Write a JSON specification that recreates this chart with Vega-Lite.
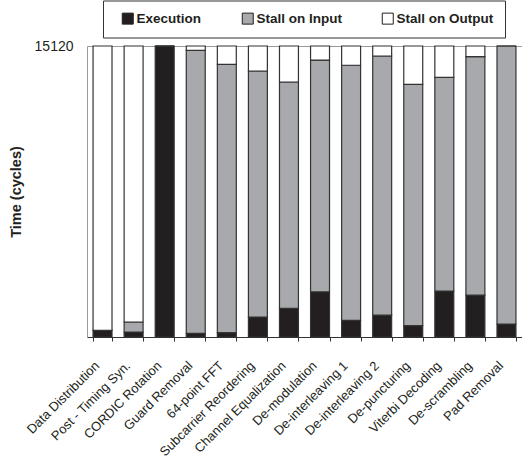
{
  "$schema": "https://vega.github.io/schema/vega-lite/v6.json",
  "autosize": "none",
  "padding": {"left": 87, "top": 46, "right": 0, "bottom": 124},
  "width": 435,
  "height": 291,
  "background": "white",
  "config": {
    "font": "Liberation Sans",
    "view": {"stroke": null}
  },
  "data": {
    "values": [
      {"stage": "Data Distribution", "part": "Execution", "cycles": 340},
      {"stage": "Data Distribution", "part": "Stall on Input", "cycles": 0},
      {"stage": "Data Distribution", "part": "Stall on Output", "cycles": 14780},
      {"stage": "Post - Timing Syn.", "part": "Execution", "cycles": 260},
      {"stage": "Post - Timing Syn.", "part": "Stall on Input", "cycles": 520},
      {"stage": "Post - Timing Syn.", "part": "Stall on Output", "cycles": 14340},
      {"stage": "CORDIC Rotation", "part": "Execution", "cycles": 15120},
      {"stage": "CORDIC Rotation", "part": "Stall on Input", "cycles": 0},
      {"stage": "CORDIC Rotation", "part": "Stall on Output", "cycles": 0},
      {"stage": "Guard Removal", "part": "Execution", "cycles": 190},
      {"stage": "Guard Removal", "part": "Stall on Input", "cycles": 14705},
      {"stage": "Guard Removal", "part": "Stall on Output", "cycles": 225},
      {"stage": "64-point FFT", "part": "Execution", "cycles": 225},
      {"stage": "64-point FFT", "part": "Stall on Input", "cycles": 13945},
      {"stage": "64-point FFT", "part": "Stall on Output", "cycles": 950},
      {"stage": "Subcarrier Reordering", "part": "Execution", "cycles": 1040},
      {"stage": "Subcarrier Reordering", "part": "Stall on Input", "cycles": 12780},
      {"stage": "Subcarrier Reordering", "part": "Stall on Output", "cycles": 1300},
      {"stage": "Channel Equalization", "part": "Execution", "cycles": 1490},
      {"stage": "Channel Equalization", "part": "Stall on Input", "cycles": 11760},
      {"stage": "Channel Equalization", "part": "Stall on Output", "cycles": 1870},
      {"stage": "De-modulation", "part": "Execution", "cycles": 2350},
      {"stage": "De-modulation", "part": "Stall on Input", "cycles": 12040},
      {"stage": "De-modulation", "part": "Stall on Output", "cycles": 730},
      {"stage": "De-interleaving 1", "part": "Execution", "cycles": 860},
      {"stage": "De-interleaving 1", "part": "Stall on Input", "cycles": 13260},
      {"stage": "De-interleaving 1", "part": "Stall on Output", "cycles": 1000},
      {"stage": "De-interleaving 2", "part": "Execution", "cycles": 1140},
      {"stage": "De-interleaving 2", "part": "Stall on Input", "cycles": 13460},
      {"stage": "De-interleaving 2", "part": "Stall on Output", "cycles": 520},
      {"stage": "De-puncturing", "part": "Execution", "cycles": 590},
      {"stage": "De-puncturing", "part": "Stall on Input", "cycles": 12540},
      {"stage": "De-puncturing", "part": "Stall on Output", "cycles": 1990},
      {"stage": "Viterbi Decoding", "part": "Execution", "cycles": 2390},
      {"stage": "Viterbi Decoding", "part": "Stall on Input", "cycles": 11100},
      {"stage": "Viterbi Decoding", "part": "Stall on Output", "cycles": 1630},
      {"stage": "De-scrambling", "part": "Execution", "cycles": 2180},
      {"stage": "De-scrambling", "part": "Stall on Input", "cycles": 12390},
      {"stage": "De-scrambling", "part": "Stall on Output", "cycles": 550},
      {"stage": "Pad Removal", "part": "Execution", "cycles": 675},
      {"stage": "Pad Removal", "part": "Stall on Input", "cycles": 14445},
      {"stage": "Pad Removal", "part": "Stall on Output", "cycles": 0}
    ]
  },
  "mark": {"type": "bar", "stroke": "#333333", "strokeWidth": 1.2},
  "encoding": {
    "x": {
      "field": "stage",
      "type": "nominal",
      "sort": null,
      "title": null,
      "scale": {"paddingInner": 0.39, "paddingOuter": 0.195},
      "axis": {
        "labelAngle": -45,
        "labelFontSize": 13,
        "labelColor": "#231f20",
        "labelPadding": 18,
        "labelOffset": -10,
        "tickBand": "extent",
        "tickSize": 4,
        "tickColor": "#333333",
        "domainColor": "#333333",
        "domainWidth": 1.2
      }
    },
    "y": {
      "field": "cycles",
      "type": "quantitative",
      "stack": "zero",
      "title": "Time (cycles)",
      "scale": {"domain": [0, 15120], "nice": false},
      "axis": {
        "values": [15120],
        "format": "d",
        "ticks": false,
        "labelPadding": 14,
        "labelFontSize": 14,
        "labelColor": "#231f20",
        "domainColor": "#9a9a9a",
        "grid": true,
        "gridColor": "#9a9a9a",
        "titleFontSize": 14.5,
        "titleFontWeight": "bold",
        "titleColor": "#231f20",
        "titlePadding": 11
      }
    },
    "order": {"field": "part", "sort": "ascending"},
    "color": {
      "field": "part",
      "type": "nominal",
      "title": " ",
      "scale": {
        "domain": ["Execution", "Stall on Input", "Stall on Output"],
        "range": ["#231f20", "#a7a9ac", "#ffffff"]
      },
      "legend": {
        "orient": "none",
        "legendX": 16,
        "legendY": -45.5,
        "direction": "horizontal",
        "fillColor": "white",
        "strokeColor": "#333333",
        "padding": 11,
        "columnPadding": 38,
        "titleOrient": "left",
        "titleFontSize": 1,
        "titlePadding": 7,
        "symbolType": "square",
        "symbolSize": 121,
        "symbolStrokeColor": "#231f20",
        "symbolStrokeWidth": 1,
        "labelFontSize": 13.5,
        "labelFontWeight": "bold",
        "labelColor": "#231f20",
        "labelOffset": 2
      }
    }
  }
}
